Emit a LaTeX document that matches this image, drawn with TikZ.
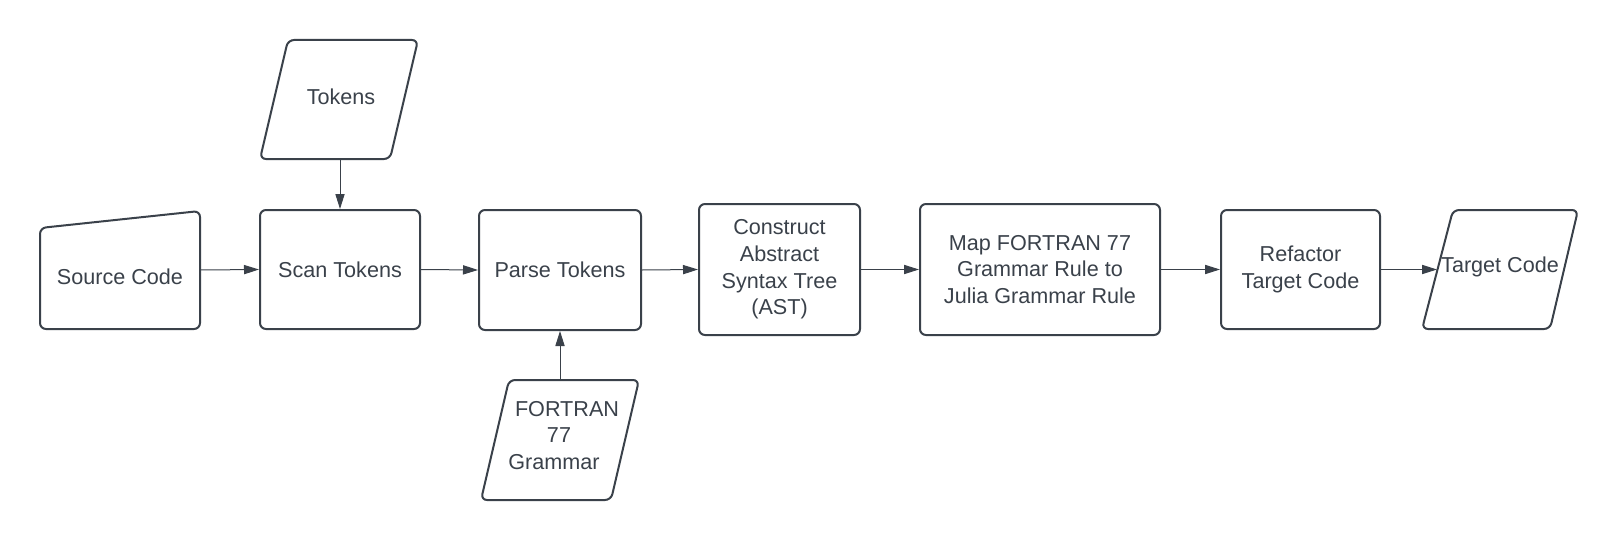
\documentclass[tikz,border=0pt]{standalone}
\usepackage{fontspec}
\setmainfont{Liberation Sans}
\usetikzlibrary{arrows.meta}
\definecolor{ink}{RGB}{58,65,74}
\begin{document}
\begin{tikzpicture}[x=0.5pt,y=-0.5pt,
  font=\fontsize{10.8}{13.3}\selectfont,
  outline/.style={draw=ink,line width=1pt,rounded corners=3pt},
  box/.style={outline,rectangle,inner sep=0pt,align=center,text=ink},
  ghost/.style={rectangle,inner sep=0pt,draw=none},
  lbl/.style={align=center,text=ink,inner sep=0pt},
  flow/.style={draw=ink,line width=0.5pt,-{Triangle[length=7.5pt,width=4.6pt]}}]
\useasboundingbox (0,0) rectangle (1620,540);

% Source Code (manual input)
\draw[outline] (40,228) -- (200,211) -- (200,329) -- (40,329) -- cycle;
\node[ghost,minimum width=80pt,minimum height=59pt] (src) at (120,270) {};
\node[lbl] (srct) at (120,277) {Source Code};

% Tokens (data)
\draw[outline] (288,40) -- (418,40) -- (390,159) -- (260,159) -- cycle;
\node[ghost,minimum width=79pt,minimum height=59.5pt] (tok) at (340,99.5) {};
\node[lbl] (tokt) at (341,97) {Tokens};

% Process boxes
\node[box,minimum width=80pt,minimum height=59.5pt] (scan) at (340,269.5) {Scan Tokens};
\node[box,minimum width=81pt,minimum height=60pt] (parse) at (560,270) {Parse Tokens};
\node[box,minimum width=80.5pt,minimum height=65.5pt] (ast) at (779.5,269.5) {Construct\\Abstract\\Syntax Tree\\(AST)};
\node[box,minimum width=120pt,minimum height=65.5pt] (map) at (1040,269.5) {Map FORTRAN 77\\Grammar Rule to\\Julia Grammar Rule};
\node[box,minimum width=79.5pt,minimum height=59.5pt] (ref) at (1300.5,269.5) {Refactor\\Target Code};

% FORTRAN 77 Grammar (data)
\draw[outline] (509,380) -- (639,380) -- (611,500) -- (481,500) -- cycle;
\node[ghost,minimum width=79pt,minimum height=60pt] (fg) at (560,440) {};
\node[lbl,anchor=base] (fgt1) at (567,416) {FORTRAN};
\node[lbl,anchor=base] (fgt2) at (559,442.5) {77};
\node[lbl,anchor=base] (fgt3) at (554,469) {Grammar};

% Target Code (data)
\draw[outline] (1453,210) -- (1578,210) -- (1550,329) -- (1422,329) -- cycle;
\coordinate (tcin) at (1437,269.5);
\node[lbl] (tct) at (1500,267) {Target Code};

% Connectors
\draw[flow] (src.east) -- (scan.west);
\draw[flow] (tok.south) -- (scan.north);
\draw[flow] (scan.east) -- (parse.west);
\draw[flow] (fg.north) -- (parse.south);
\draw[flow] (parse.east) -- (ast.west);
\draw[flow] (ast.east) -- (map.west);
\draw[flow] (map.east) -- (ref.west);
\draw[flow] (ref.east) -- (tcin);
\end{tikzpicture}
\end{document}
